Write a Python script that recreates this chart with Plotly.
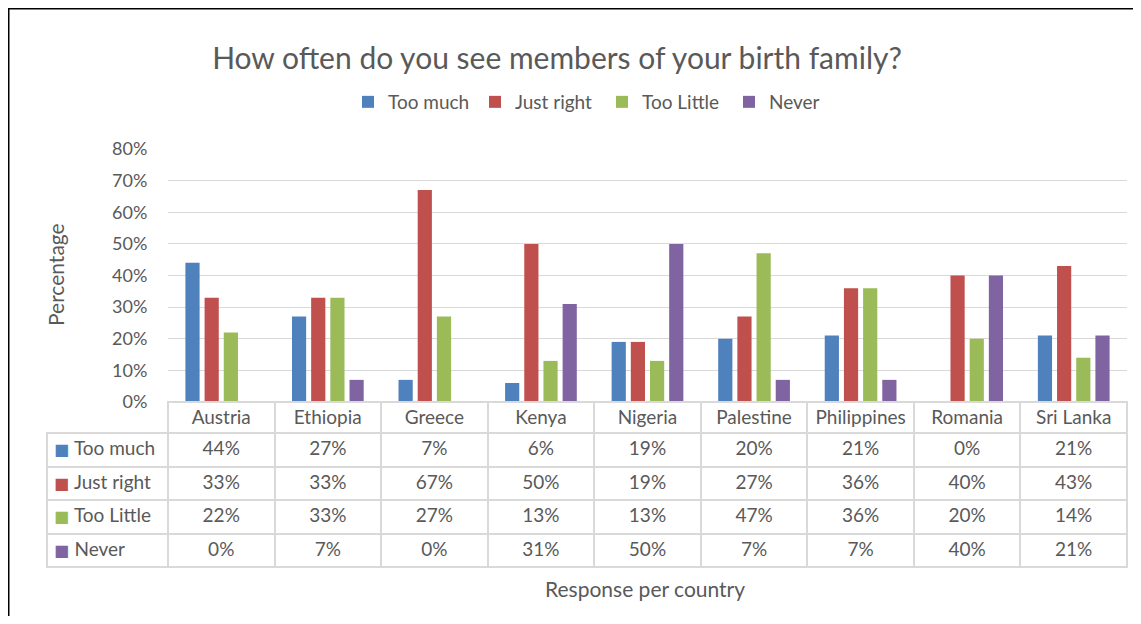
import plotly.graph_objects as go

countries = ["Austria", "Ethiopia", "Greece", "Kenya", "Nigeria",
             "Palestine", "Philippines", "Romania", "Sri Lanka"]
series = ["Too much", "Just right", "Too Little", "Never"]
too_much = [0.44, 0.27, 0.07, 0.06, 0.19, 0.20, 0.21, 0.00, 0.21]
just_right = [0.33, 0.33, 0.67, 0.50, 0.19, 0.27, 0.36, 0.40, 0.43]
too_little = [0.22, 0.33, 0.27, 0.13, 0.13, 0.47, 0.36, 0.20, 0.14]
never = [0.00, 0.07, 0.00, 0.31, 0.50, 0.07, 0.07, 0.40, 0.21]
colors = ["#4F81BD", "#C0504D", "#9BBB59", "#8064A2"]

# the page body has an 8px margin, so the figure is 16px smaller than the window
OFF = 8
W, H = 1141 - 2 * OFF, 624 - 2 * OFF
FONT = "Lato"
GREY = "#595959"
LINE = "#D9D9D9"

# layout in window pixels, as measured on the Excel chart
x_tab, x_plot, x_end = 47, 168, 1127
y_top, y_zero = 149, 402
head_h, row_h = 31, 33.5


def px(x):
    return (x - OFF) / W


def py(y):
    return 1 - (y - OFF) / H


fig = go.Figure()
for name, vals, col in zip(series, [too_much, just_right, too_little, never], colors):
    fig.add_trace(go.Bar(x=countries, y=vals, name=name, marker_color=col,
                         marker_line_width=0))

# data table under the chart (no wrapping in the first column)
data_rows = [too_much, just_right, too_little, never]
nb = "\u00a0"
cols = [[nb * 4 + s.replace(" ", nb) for s in series]] + \
       [[f"{round(r[i] * 100)}%" for r in data_rows] for i in range(len(countries))]
n = len(countries)
fig.add_trace(go.Table(
    domain=dict(x=[px(x_tab), px(x_end)], y=[py(y_zero + head_h + 4 * row_h + 2), py(y_zero)]),
    columnwidth=[121] + [106.6] * n,
    header=dict(values=[""] + countries, height=head_h,
                line=dict(color=["rgba(0,0,0,0)"] + [LINE] * n, width=2),
                fill_color=["rgba(0,0,0,0)"] + ["white"] * n,
                font=dict(family=FONT, size=19, color=GREY), align="center"),
    cells=dict(values=cols, height=row_h,
               line=dict(color=LINE, width=2), fill_color="white",
               font=dict(family=FONT, size=19, color=GREY),
               align=["left"] + ["center"] * n),
))

# colour keys in the table's first column
keys = [dict(text="■", x=px(61), y=py(y_zero + head_h + row_h * (i + 0.5)),
             xref="paper", yref="paper", xanchor="center", yanchor="middle",
             showarrow=False, font=dict(family="DejaVu Sans", size=16, color=c))
        for i, c in enumerate(colors)]

fig.update_layout(
    width=W, height=H, margin=dict(l=0, r=0, t=0, b=0, autoexpand=False),
    paper_bgcolor="white", plot_bgcolor="white",
    font=dict(family=FONT, color=GREY),
    barmode="group", bargap=0.28, bargroupgap=0.26,
    title=dict(text="How often do you see members of your birth family?",
               x=px(557), xanchor="center", y=py(58), yanchor="middle",
               font=dict(size=30, color=GREY)),
    legend=dict(orientation="h", x=px(348), xanchor="left", y=py(102), yanchor="middle",
                font=dict(size=19, color=GREY), itemwidth=30, entrywidth=82,
                traceorder="normal"),
    xaxis=dict(domain=[px(x_plot), px(x_end)], showticklabels=False, showgrid=False,
               showline=False, ticks="", automargin=False, fixedrange=True),
    yaxis=dict(domain=[py(y_zero), py(y_top)], range=[0, 0.8], dtick=0.1,
               tickformat=".0%", gridcolor=LINE, gridwidth=1, zeroline=False,
               showline=False, ticks="outside", ticklen=16, tickcolor="rgba(0,0,0,0)",
               tickfont=dict(size=18, color=GREY), automargin=False),
    annotations=[
        dict(text="Percentage", x=px(55), y=py(275), xref="paper", yref="paper",
             xanchor="center", yanchor="middle", textangle=-90, showarrow=False,
             font=dict(size=21, color=GREY)),
        dict(text="Response per country", x=px(645), y=py(588), xref="paper", yref="paper",
             xanchor="center", yanchor="middle", showarrow=False,
             font=dict(size=21, color=GREY)),
    ] + keys,
    shapes=[
        dict(type="line", xref="paper", yref="paper", x0=0, x1=0, y0=0, y1=1,
             line=dict(color="black", width=3)),
        dict(type="line", xref="paper", yref="paper", x0=0, x1=1, y0=1, y1=1,
             line=dict(color="black", width=3)),
    ],
)

fig.write_html("out.html")
